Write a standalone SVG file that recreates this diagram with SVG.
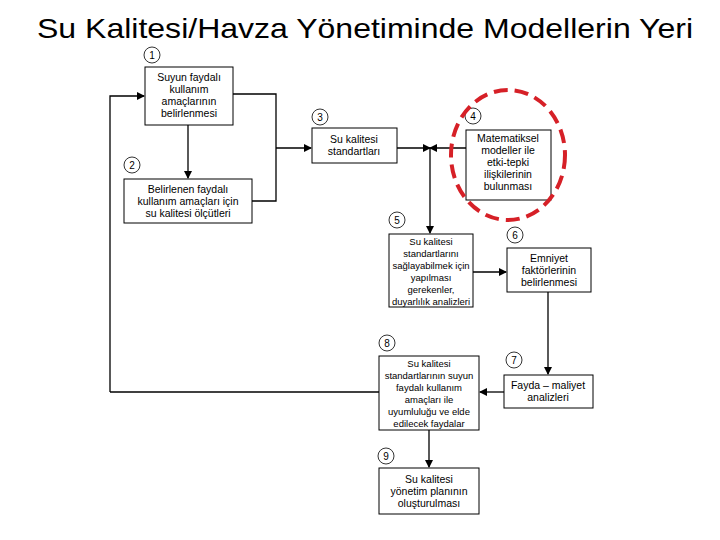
<svg xmlns="http://www.w3.org/2000/svg" width="720" height="540" viewBox="0 0 720 540">
<style>
.b{fill:#fff;stroke:#000;stroke-width:1}
.t{font-family:"Liberation Sans",Arial,sans-serif;font-size:10.5px;text-anchor:middle;fill:#000}
.s{font-size:9.5px}
.n{fill:#fff;stroke:#000;stroke-width:0.8}
.nt{font-family:"Liberation Sans",Arial,sans-serif;font-size:10px;text-anchor:middle}
.c{fill:none;stroke:#000;stroke-width:1.3}
</style>
<defs><marker id="a" markerWidth="8" markerHeight="8" refX="7" refY="4" orient="auto" markerUnits="userSpaceOnUse"><path d="M0,0L8,4L0,8z" fill="#000"/></marker></defs>
<rect width="720" height="540" fill="#fff"/>
<text x="37" y="38" font-family="Liberation Sans,Arial,sans-serif" font-size="28" textLength="656" lengthAdjust="spacingAndGlyphs">Su Kalitesi/Havza Yönetiminde Modellerin Yeri</text>
<g id="connectors">
<path class="c" d="M110,392V96H144" marker-end="url(#a)"/>
<path class="c" d="M233,94H276V201H252"/>
<path class="c" d="M276,148H311" marker-end="url(#a)"/>
<path class="c" d="M188,125V178" marker-end="url(#a)"/>
<path class="c" d="M397,148H430" marker-end="url(#a)"/>
<path class="c" d="M466,148H430" marker-end="url(#a)"/>
<path class="c" d="M430,148V233" marker-end="url(#a)"/>
<path class="c" d="M473,272H506" marker-end="url(#a)"/>
<path class="c" d="M548,292V374" marker-end="url(#a)"/>
<path class="c" d="M504,392H480" marker-end="url(#a)"/>
<path class="c" d="M379,392H110"/>
<path class="c" d="M429,430V467" marker-end="url(#a)"/>
</g>
<g id="n1"><rect class="b" x="145" y="67" width="88" height="58"/><circle class="n" cx="152" cy="55" r="8"/><text class="nt" x="152" y="59">1</text>
<text class="t" y="81"><tspan x="189">Suyun faydalı</tspan><tspan x="189" dy="12">kullanım</tspan><tspan x="189" dy="12">amaçlarının</tspan><tspan x="189" dy="12">belirlenmesi</tspan></text></g>
<g id="n2"><rect class="b" x="124" y="179" width="128" height="44"/><circle class="n" cx="132" cy="165" r="8"/><text class="nt" x="132" y="169">2</text>
<text class="t" y="193"><tspan x="188">Belirlenen faydalı</tspan><tspan x="188" dy="12">kullanım amaçları için</tspan><tspan x="188" dy="12">su kalitesi ölçütleri</tspan></text></g>
<g id="n3"><rect class="b" x="312" y="128" width="85" height="35"/><circle class="n" cx="320" cy="117" r="8"/><text class="nt" x="320" y="121">3</text>
<text class="t" y="143"><tspan x="354">Su kalitesi</tspan><tspan x="354" dy="12">standartları</tspan></text></g>
<g id="n4"><rect class="b" x="466" y="130" width="85" height="70"/><circle class="n" cx="473" cy="116" r="8"/><text class="nt" x="473" y="120">4</text>
<text class="t" y="142"><tspan x="508">Matematiksel</tspan><tspan x="508" dy="12">modeller ile</tspan><tspan x="508" dy="12">etki-tepki</tspan><tspan x="508" dy="12">ilişkilerinin</tspan><tspan x="508" dy="12">bulunması</tspan></text>
<ellipse cx="508" cy="155" rx="57" ry="65" fill="none" stroke="#d62027" stroke-width="4" stroke-dasharray="14 7"/></g>
<g id="n5"><rect class="b" x="389" y="234" width="84" height="73"/><circle class="n" cx="397" cy="220" r="8"/><text class="nt" x="397" y="224">5</text>
<text class="t s" y="245"><tspan x="431">Su kalitesi</tspan><tspan x="431" dy="12">standartlarını</tspan><tspan x="431" dy="12">sağlayabilmek için</tspan><tspan x="431" dy="12">yapılması</tspan><tspan x="431" dy="12">gerekenler,</tspan><tspan x="431" dy="12">duyarlılık analizleri</tspan></text></g>
<g id="n6"><rect class="b" x="507" y="248" width="84" height="44"/><circle class="n" cx="515" cy="235" r="8"/><text class="nt" x="515" y="239">6</text>
<text class="t" y="262"><tspan x="549">Emniyet</tspan><tspan x="549" dy="12">faktörlerinin</tspan><tspan x="549" dy="12">belirlenmesi</tspan></text></g>
<g id="n7"><rect class="b" x="504" y="375" width="89" height="33"/><circle class="n" cx="514" cy="360" r="8"/><text class="nt" x="514" y="364">7</text>
<text class="t" y="389"><tspan x="548">Fayda – maliyet</tspan><tspan x="548" dy="12">analizleri</tspan></text></g>
<g id="n8"><rect class="b" x="379" y="356" width="100" height="74"/><circle class="n" cx="387" cy="343" r="8"/><text class="nt" x="387" y="347">8</text>
<text class="t s" y="367"><tspan x="429">Su kalitesi</tspan><tspan x="429" dy="12">standartlarının suyun</tspan><tspan x="429" dy="12">faydalı kullanım</tspan><tspan x="429" dy="12">amaçları ile</tspan><tspan x="429" dy="12">uyumluluğu ve elde</tspan><tspan x="429" dy="12">edilecek faydalar</tspan></text></g>
<g id="n9"><rect class="b" x="379" y="468" width="100" height="46"/><circle class="n" cx="386" cy="456" r="8"/><text class="nt" x="386" y="460">9</text>
<text class="t" y="483"><tspan x="429">Su kalitesi</tspan><tspan x="429" dy="12">yönetim planının</tspan><tspan x="429" dy="12">oluşturulması</tspan></text></g>
</svg>
